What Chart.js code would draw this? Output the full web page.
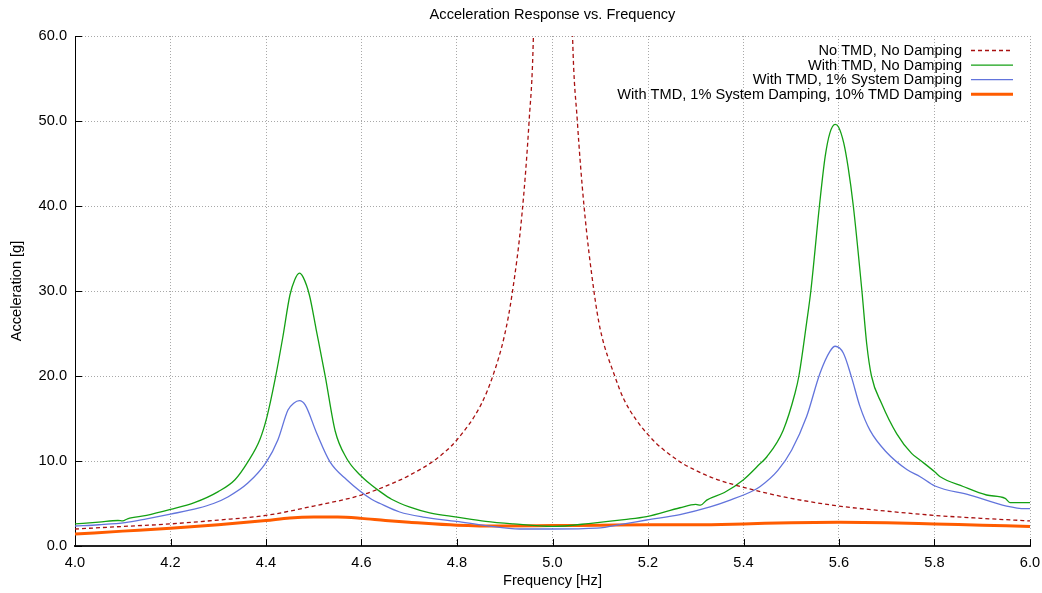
<!DOCTYPE html>
<html>
<head>
<meta charset="utf-8">
<script src="https://cdn.jsdelivr.net/npm/chart.js@4"></script>
<style>
  html, body { margin: 0; padding: 0; background: #fff; }
  #wrap { width: 1042px; height: 593px; }
</style>
</head>
<body>
<div id="wrap"><canvas id="c"></canvas></div>
<script>
// values
const noTmdFreq = [4.0, 4.1, 4.2, 4.3, 4.4, 4.5, 4.6, 4.666, 4.7, 4.758, 4.8, 4.85, 4.875, 4.9, 4.915, 4.936, 4.951, 4.96, 4.98,
  5.02, 5.042, 5.052, 5.066, 5.087, 5.1, 5.131, 5.15, 5.2, 5.267, 5.3, 5.336, 5.4, 5.45, 5.5, 5.6, 5.7, 5.8, 5.9, 6.0];
const noTmdAcc = [2.0, 2.3, 2.6, 3.05, 3.6, 4.7, 6.0, 7.4, 8.3, 10.3, 12.5, 16.6, 20.0, 24.9, 29.5, 39, 50, 60, 125,
  125, 60, 50, 40, 29.9, 25.5, 19.9, 17.2, 13.1, 9.9, 8.9, 8.0, 6.9, 6.2, 5.6, 4.7, 4.1, 3.6, 3.25, 2.95];

const tmdFreq = [4.0, 4.05, 4.09, 4.1, 4.11, 4.15, 4.2, 4.25, 4.3, 4.335, 4.362, 4.387, 4.402, 4.419, 4.435, 4.45, 4.46, 4.47,
  4.478, 4.491, 4.505, 4.524, 4.545, 4.569, 4.597, 4.62, 4.639, 4.663, 4.7, 4.743, 4.8, 4.86, 4.918, 5.0, 5.085, 5.15,
  5.197, 5.267, 5.3, 5.31, 5.323, 5.36, 5.4, 5.435, 5.449, 5.483, 5.508, 5.516, 5.532, 5.541, 5.559, 5.571, 5.581, 5.592,
  5.599, 5.61, 5.619, 5.63, 5.648, 5.658, 5.668, 5.689, 5.721, 5.752, 5.77, 5.801, 5.812, 5.86, 5.909, 5.948, 5.958, 5.99, 6.0];
const tmdAcc = [2.6, 2.8, 3.0, 2.95, 3.2, 3.6, 4.3, 5.1, 6.4, 7.8, 9.9, 12.5, 15.2, 19.6, 24.5, 29.5, 31.3, 32.1,
  31.6, 29.5, 25.5, 20, 13.5, 10.3, 8.35, 7.2, 6.4, 5.5, 4.6, 3.9, 3.4, 2.9, 2.6, 2.3, 2.7, 3.1,
  3.45, 4.5, 4.9, 4.8, 5.4, 6.3, 7.8, 9.7, 10.5, 13.6, 18.0, 20, 26.2, 30, 40, 45.8, 48.6, 49.6,
  49.3, 47.4, 44.6, 40, 30, 23.8, 20, 16.8, 13.2, 10.9, 10.1, 8.7, 8.15, 7.0, 6.0, 5.6, 5.1, 5.1, 5.1];

const sysDampFreq = [4.0, 4.05, 4.105, 4.15, 4.2, 4.258, 4.29, 4.321, 4.362, 4.401, 4.425, 4.446, 4.458, 4.47, 4.482, 4.506,
  4.534, 4.569, 4.621, 4.639, 4.68, 4.729, 4.799, 4.86, 4.932, 5.0, 5.093, 5.15, 5.197, 5.267, 5.33, 5.372, 5.42, 5.435,
  5.472, 5.501, 5.532, 5.56, 5.581, 5.592, 5.609, 5.626, 5.644, 5.665, 5.7, 5.742, 5.77, 5.801, 5.874, 5.951, 5.99, 6.0];
const sysDampAcc = [2.35, 2.5, 2.75, 3.2, 3.75, 4.45, 5.0, 5.8, 7.4, 9.9, 12.5, 16.0, 16.8, 17.1, 16.6, 13.3,
  9.9, 7.8, 5.5, 5.0, 4.0, 3.4, 2.9, 2.4, 2.0, 2.0, 2.1, 2.6, 3.06, 3.7, 4.6, 5.4, 6.5, 7.0,
  8.9, 11.3, 15.2, 20.3, 22.9, 23.5, 22.7, 19.9, 16.4, 13.6, 11.0, 9.0, 8.15, 7.06, 6.0, 4.7, 4.4, 4.4];

const fullDampFreq = [4.0, 4.1, 4.2, 4.3, 4.4, 4.45, 4.5, 4.55, 4.6, 4.65, 4.7, 4.8, 4.9, 5.0, 5.1, 5.2, 5.3, 5.4, 5.5, 5.6, 5.7, 5.8, 5.9, 6.0];
const fullDampAcc = [1.4, 1.75, 2.1, 2.5, 3.0, 3.3, 3.4, 3.4, 3.25, 3.0, 2.8, 2.45, 2.35, 2.4, 2.45, 2.5, 2.5, 2.6, 2.75, 2.8, 2.75, 2.6, 2.45, 2.3];

const seriesNames = [
  'No TMD, No Damping',
  'With TMD, No Damping',
  'With TMD, 1% System Damping',
  'With TMD, 1% System Damping, 10% TMD Damping'
];

const FONT = '"Liberation Sans", Arial, sans-serif';
const FS = 14.6;
const pts = (xs, ys) => xs.map((x, i) => ({ x, y: ys[i] }));

// legend drawn like gnuplot: text right aligned, sample line to the right
const gnuLegend = {
  id: 'gnuLegend',
  afterDraw(chart) {
    const ctx = chart.ctx;
    const textRight = 962, x1 = 971, x2 = 1013;
    ctx.save();
    ctx.font = FS + 'px ' + FONT;
    ctx.textAlign = 'right';
    ctx.textBaseline = 'middle';
    chart.data.datasets.forEach((ds, i) => {
      const y = 50.5 + i * 14.6;
      ctx.fillStyle = '#000';
      ctx.fillText(ds.label, textRight, y + 0.5);
      ctx.strokeStyle = ds.borderColor;
      ctx.lineWidth = ds.borderWidth;
      ctx.setLineDash(ds.borderDash || []);
      ctx.beginPath();
      ctx.moveTo(x1, y);
      ctx.lineTo(x2, y);
      ctx.stroke();
    });
    ctx.restore();
  }
};

// short inward tick marks on the left and bottom axes
const innerTicks = {
  id: 'innerTicks',
  afterDatasetsDraw(chart) {
    const { ctx, chartArea: a, scales } = chart;
    ctx.save();
    ctx.strokeStyle = '#000';
    ctx.lineWidth = 1;
    ctx.beginPath();
    scales.x.ticks.forEach(t => {
      const px = Math.round(scales.x.getPixelForValue(t.value)) + 0.5;
      ctx.moveTo(px, a.bottom);
      ctx.lineTo(px, a.bottom - 7);
    });
    scales.y.ticks.forEach(t => {
      const py = Math.round(scales.y.getPixelForValue(t.value)) + 0.5;
      ctx.moveTo(a.left, py);
      ctx.lineTo(a.left + 7, py);
    });
    ctx.stroke();
    ctx.restore();
  }
};

new Chart(document.getElementById('c'), {
  type: 'line',
  data: {
    datasets: [
      {
        label: seriesNames[0],
        data: pts(noTmdFreq, noTmdAcc),
        borderColor: '#a81010',
        borderWidth: 1.3,
        borderDash: [4, 3]
      },
      {
        label: seriesNames[1],
        data: pts(tmdFreq, tmdAcc),
        borderColor: '#14a014',
        borderWidth: 1.3
      },
      {
        label: seriesNames[2],
        data: pts(sysDampFreq, sysDampAcc),
        borderColor: '#6274dc',
        borderWidth: 1.3
      },
      {
        label: seriesNames[3],
        data: pts(fullDampFreq, fullDampAcc),
        borderColor: '#ff5c00',
        borderWidth: 3
      }
    ]
  },
  options: {
    responsive: true,
    maintainAspectRatio: false,
    animation: false,
    layout: { padding: { top: 0, right: 12, left: 0, bottom: 0 } },
    elements: {
      point: { radius: 0 },
      line: { cubicInterpolationMode: 'monotone', fill: false }
    },
    scales: {
      x: {
        type: 'linear',
        min: 4,
        max: 6,
        afterFit: s => { s.height = 47; s.paddingRight = 0; s.paddingLeft = 0; },
        ticks: {
          stepSize: 0.2,
          padding: 8,
          color: '#000',
          font: { family: FONT, size: FS },
          callback: v => v.toFixed(1)
        },
        grid: { color: '#a8a8a8', drawTicks: false, lineWidth: 1 },
        border: { display: true, color: '#222', width: 2, dash: [1, 2] },
        title: {
          display: true,
          text: 'Frequency [Hz]',
          color: '#000',
          font: { family: FONT, size: FS },
          padding: { top: 0, bottom: 3.5 }
        }
      },
      y: {
        min: 0,
        max: 60,
        afterFit: s => { s.width = 75; },
        ticks: {
          stepSize: 10,
          padding: 8,
          color: '#000',
          font: { family: FONT, size: FS },
          callback: v => v.toFixed(1)
        },
        grid: { color: '#a8a8a8', drawTicks: false, lineWidth: 1 },
        border: { display: true, color: '#000', width: 1, dash: [1, 2] },
        title: {
          display: true,
          text: 'Acceleration [g]',
          color: '#000',
          font: { family: FONT, size: FS },
          padding: { top: 8, bottom: 0 }
        }
      }
    },
    plugins: {
      legend: { display: false },
      tooltip: { enabled: false },
      title: {
        display: true,
        fullSize: false,
        text: 'Acceleration Response vs. Frequency',
        color: '#000',
        font: { family: FONT, size: FS, weight: 'normal' },
        padding: { top: 6, bottom: 12.5 }
      }
    }
  },
  plugins: [gnuLegend, innerTicks]
});
</script>
</body>
</html>
